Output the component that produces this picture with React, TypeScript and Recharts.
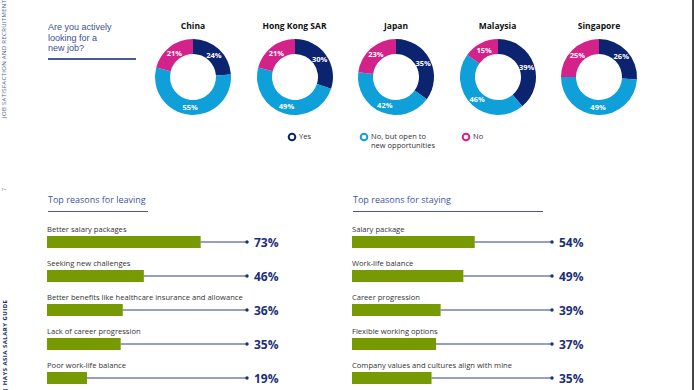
import React from 'react';
import { PieChart, Pie, Cell, BarChart, Bar, XAxis, YAxis, LabelList } from 'recharts';

const countries = ['China', 'Hong Kong SAR', 'Japan', 'Malaysia', 'Singapore'];
const yesValues = [24, 30, 35, 39, 26];
const openValues = [55, 49, 42, 46, 49];
const noValues = [21, 21, 23, 15, 25];
const answerLabels = ['Yes', 'No, but open to new opportunities', 'No'];

const leavingReasons = [
  'Better salary packages',
  'Seeking new challenges',
  'Better benefits like healthcare insurance and allowance',
  'Lack of career progression',
  'Poor work-life balance',
];
const leavingValues = [73, 46, 36, 35, 19];

const stayingReasons = [
  'Salary package',
  'Work-life balance',
  'Career progression',
  'Flexible working options',
  'Company values and cultures align with mine',
];
const stayingValues = [54, 49, 39, 37, 35];

const questionLines = ['Are you actively', 'looking for a', 'new job?'];

const FONT = '"Open Sans", "Noto Sans", sans-serif';
const NAVY = '#0c2470';
const SKY = '#0f9fd9';
const PINK = '#d4228b';
const answerColors = [NAVY, SKY, PINK];
const GREEN = '#779a02';
const INK = '#1c2f78';
const RADIAN = Math.PI / 180;

const renderPieLabel = (props: any) => {
  const { cx, cy, midAngle, innerRadius, outerRadius, value } = props;
  const r = (innerRadius + outerRadius) / 2;
  const x = cx + r * Math.cos(-midAngle * RADIAN);
  const y = cy + r * Math.sin(-midAngle * RADIAN);
  return (
    <text x={x} y={y} fill="#fff" fontSize={7.5} fontWeight={700} fontFamily={FONT}
      textAnchor="middle" dominantBaseline="central">
      {value}%
    </text>
  );
};

const Donut = ({ index }: { index: number }) => {
  const data = answerLabels.map((name, i) => ({
    name,
    value: [yesValues, openValues, noValues][i][index],
  }));
  const centerX = 193 + index * 101.5;
  return (
    <div style={{ position: 'absolute', left: centerX - 50, top: 0, width: 100 }}>
      <div style={{
        position: 'absolute', top: 20, width: 100, textAlign: 'center',
        fontSize: 8.5, fontWeight: 700, color: '#111', lineHeight: '12px',
      }}>
        {countries[index]}
      </div>
      <div style={{ position: 'absolute', top: 27 }}>
        <PieChart width={100} height={100} margin={{ top: 0, right: 0, bottom: 0, left: 0 }}>
          <Pie data={data} dataKey="value" cx={50} cy={50} innerRadius={23} outerRadius={38}
            startAngle={90} endAngle={-270} stroke="none" isAnimationActive={false}
            label={renderPieLabel} labelLine={false}>
            {data.map((d, i) => <Cell key={d.name} fill={answerColors[i]} />)}
          </Pie>
        </PieChart>
      </div>
    </div>
  );
};

const LegendItem = ({ color, label, left, width }: { color: string, label: string, left: number, width: number }) => (
  <div style={{ position: 'absolute', left, top: 132, display: 'flex', alignItems: 'flex-start' }}>
    <svg width={10} height={10}>
      <circle cx={5} cy={5} r={3.3} fill="#fff" stroke={color} strokeWidth={2} />
    </svg>
    <div style={{ marginLeft: 2, fontSize: 7.5, lineHeight: '8.5px', color: '#333', width }}>
      {label}
    </div>
  </div>
);

const LineShape = (props: any) => {
  const { x, y, width, height } = props;
  const cy = y + height / 2;
  return (
    <g>
      <line x1={x} x2={x + width} y1={cy} y2={cy} stroke="#2f407c" strokeWidth={1} />
      <circle cx={x + width} cy={cy} r={1.7} fill={INK} />
    </g>
  );
};

const NameLabel = (props: any) => {
  const { x, y, value } = props;
  return (
    <text x={x} y={y - 4} fontSize={7.6} fill="#333" fontFamily={FONT}>{value}</text>
  );
};

const ValueLabel = (props: any) => {
  const { x, y, width, height, value } = props;
  return (
    <text x={x + width + 7} y={y + height / 2} fontSize={12} fontWeight={700} fill={INK}
      fontFamily={FONT} dominantBaseline="central">
      {value}%
    </text>
  );
};

const ReasonPanel = ({ title, reasons, values, max, left, ruleWidth }: {
  title: string, reasons: string[], values: number[], max: number, left: number, ruleWidth: number,
}) => {
  const data = reasons.map((name, i) => ({ name, value: values[i], rest: max - values[i] }));
  return (
    <>
      <div style={{ position: 'absolute', left: left + 1, top: 194, fontSize: 9, color: '#3a56a0', lineHeight: '12px' }}>
        {title}
      </div>
      <div style={{ position: 'absolute', left: left + 1, top: 211, width: ruleWidth, height: 1.3, background: '#4a5a8c' }} />
      <div style={{ position: 'absolute', left, top: 225 }}>
        <BarChart layout="vertical" width={250} height={170} data={data}
          margin={{ top: 0, right: 50, left: 0, bottom: 0 }}>
          <XAxis type="number" domain={[0, max]} hide />
          <YAxis type="category" dataKey="name" hide />
          <Bar dataKey="value" stackId="a" fill={GREEN} barSize={12} isAnimationActive={false}>
            <LabelList dataKey="name" content={NameLabel} />
          </Bar>
          <Bar dataKey="rest" stackId="a" barSize={12} shape={LineShape} isAnimationActive={false}>
            <LabelList dataKey="value" content={ValueLabel} />
          </Bar>
        </BarChart>
      </div>
    </>
  );
};

export default function App() {
  return (
    <div style={{
      position: 'absolute', left: 0, top: 0, width: 694, height: 390, background: '#fff',
      overflow: 'hidden', fontFamily: FONT,
    }}>
      <svg width={14} height={390} style={{ position: 'absolute', left: 0, top: 0 }}>
        <text transform="translate(6,118) rotate(-90)" fontSize={6} fill="#4a5a95"
          textLength={118} lengthAdjust="spacing" fontFamily={FONT}>
          JOB SATISFACTION AND RECRUITMENT
        </text>
        <text transform="translate(6,191) rotate(-90)" fontSize={5.5} fill="#666" fontFamily={FONT}>7</text>
        <text transform="translate(7,391) rotate(-90)" fontSize={6} fontWeight={700} fill="#1b2a5e"
          textLength={91} lengthAdjust="spacing" fontFamily={FONT}>
          | HAYS ASIA SALARY GUIDE
        </text>
      </svg>

      {questionLines.map((line, i) => (
        <div key={line} style={{
          position: 'absolute', left: 48, top: 22 + i * 10.5, fontSize: 9, lineHeight: '10px',
          height: 10, color: '#3a4f95', whiteSpace: 'nowrap', fontFamily: '"Liberation Sans", Arial, sans-serif',
        }}>
          {line}
        </div>
      ))}
      <div style={{ position: 'absolute', left: 48, top: 58, width: 88, height: 1.5, background: '#4a5b94' }} />

      {countries.map((c, i) => <Donut key={c} index={i} />)}

      <LegendItem color={NAVY} label={answerLabels[0]} left={287} width={40} />
      <LegendItem color={SKY} label={answerLabels[1]} left={359} width={66} />
      <LegendItem color={PINK} label={answerLabels[2]} left={461} width={40} />

      <ReasonPanel title="Top reasons for leaving" reasons={leavingReasons} values={leavingValues}
        max={95} left={47} ruleWidth={100} />
      <ReasonPanel title="Top reasons for staying" reasons={stayingReasons} values={stayingValues}
        max={88} left={352} ruleWidth={190} />

      <div style={{ position: 'absolute', left: 692, top: 0, width: 2, height: 390, background: '#444' }} />
    </div>
  );
}
